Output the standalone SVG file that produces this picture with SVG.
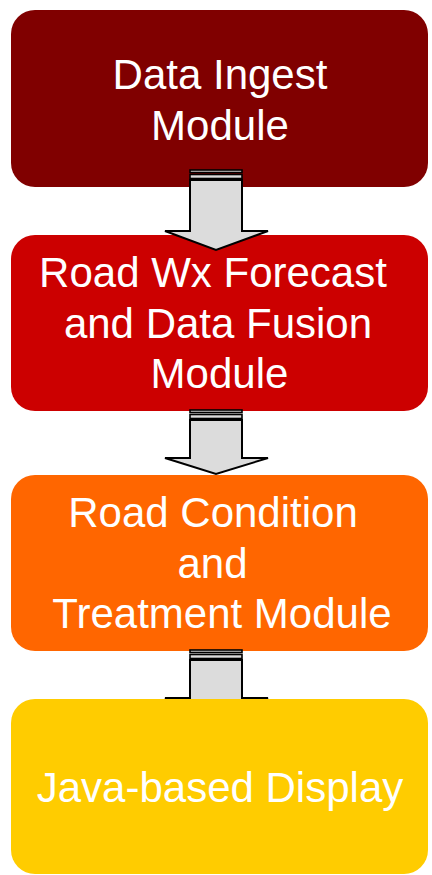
<svg xmlns="http://www.w3.org/2000/svg" width="432" height="875" viewBox="0 0 432 875">
<style>
.box{stroke:none}
.lbl{font-family:"Liberation Sans",Arial,sans-serif;font-size:42px;fill:#ffffff;text-anchor:middle}
.arr{fill:#dcdcdc;stroke:#000;stroke-width:2;stroke-linejoin:miter}
.stripe{fill:#dcdcdc;stroke:#000;stroke-width:1.6}
</style>
<rect width="432" height="875" fill="#ffffff"/>
<g id="node-ingest">
<rect class="box" x="11" y="10" width="417" height="177" rx="24" fill="#800000"/>
<text class="lbl" x="220" y="89">Data Ingest</text>
<text class="lbl" x="220" y="140">Module</text>
</g>
<g id="node-forecast">
<rect class="box" x="11" y="235" width="417" height="176" rx="24" fill="#cc0000"/>
<text class="lbl" x="213" y="287">Road Wx Forecast</text>
<text class="lbl" x="218" y="338">and Data Fusion</text>
<text class="lbl" x="219.5" y="388">Module</text>
</g>
<g id="node-condition">
<rect class="box" x="11" y="475" width="417" height="176" rx="24" fill="#ff6600"/>
<text class="lbl" x="213" y="527">Road Condition</text>
<text class="lbl" x="212.5" y="578">and</text>
<text class="lbl" x="222" y="628">Treatment Module</text>
</g>
<g id="connectors">
<g id="arrow1">
<path class="arr" d="M190,180 H242 V231 H268 L216,250 L165,231 H190 Z"/>
<rect class="stripe" x="190" y="170" width="52" height="2.5" fill="#888"/>
<rect class="stripe" x="190" y="174.5" width="52" height="4"/>
</g>
<g id="arrow2">
<path class="arr" d="M190,420 H242 V458 H268 L216,474 L165,458 H190 Z"/>
<rect class="stripe" x="190" y="410" width="52" height="2.5"/>
<rect class="stripe" x="190" y="414.5" width="52" height="4"/>
</g>
<g id="arrow3">
<path class="arr" d="M190,660 H242 V698 H268 L216,716 L165,698 H190 Z"/>
<rect class="stripe" x="190" y="650" width="52" height="2.5"/>
<rect class="stripe" x="190" y="654.5" width="52" height="4"/>
</g>
</g>
<g id="node-display">
<rect class="box" x="11" y="699" width="417" height="175" rx="24" fill="#ffcc00"/>
<text class="lbl" x="220" y="802">Java-based Display</text>
</g>
</svg>
